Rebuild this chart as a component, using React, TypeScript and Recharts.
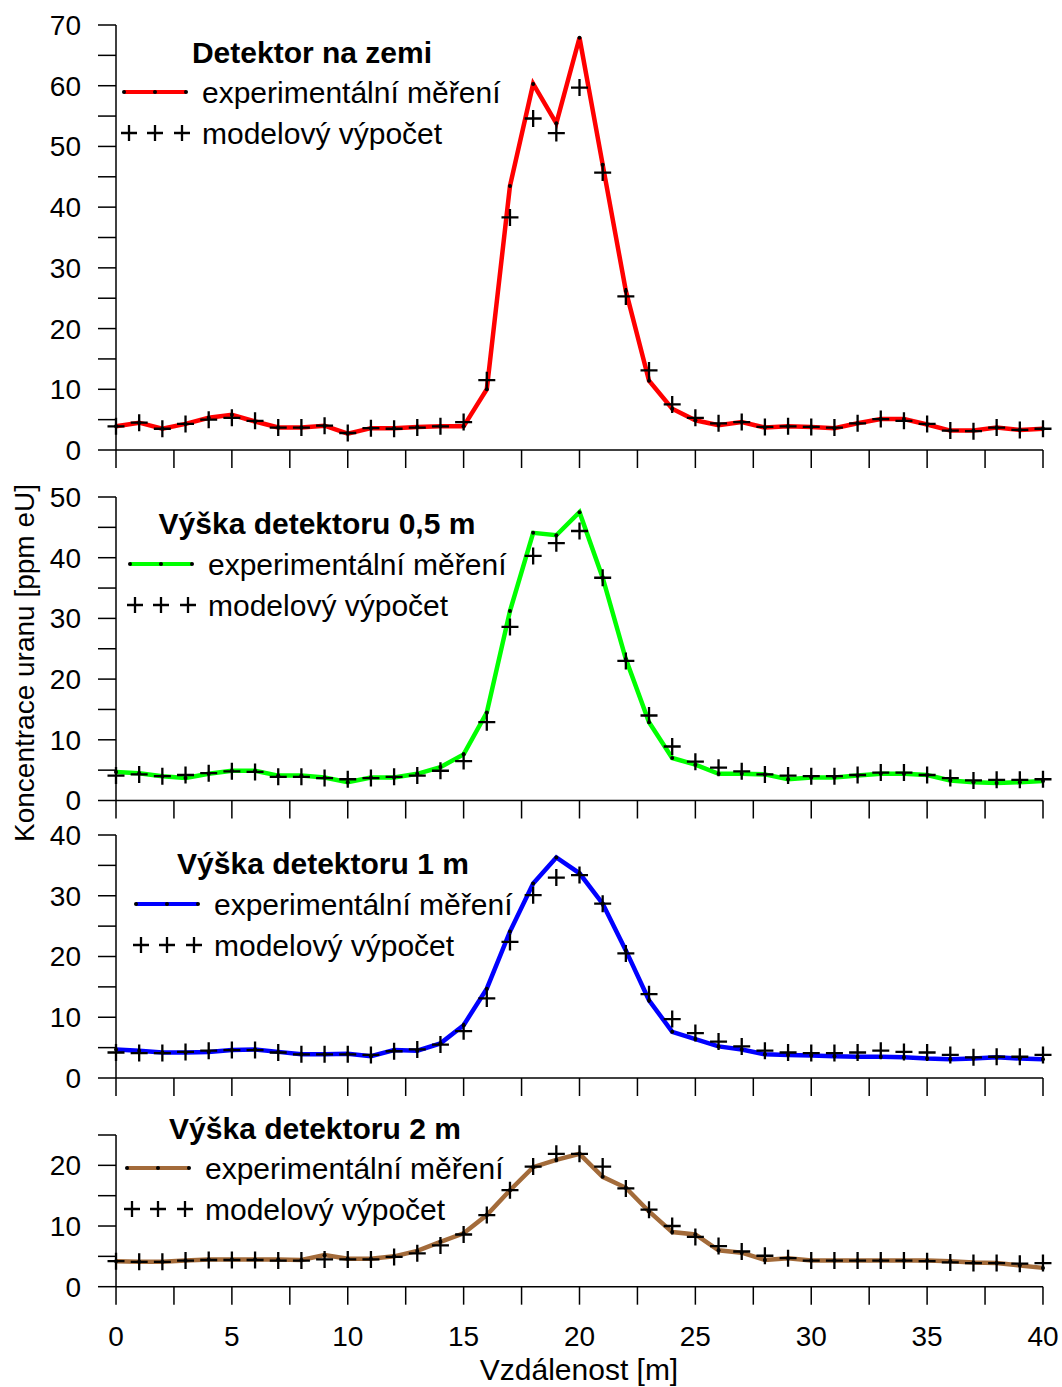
import React from 'react';
import { LineChart, Line, XAxis, YAxis } from 'recharts';

const distance = [
  0, 1, 2, 3, 4, 5, 6, 7, 8, 9, 10, 11, 12, 13, 14, 15, 16, 17, 18, 19, 20,
  21, 22, 23, 24, 25, 26, 27, 28, 29, 30, 31, 32, 33, 34, 35, 36, 37, 38, 39, 40,
];

const groundMeasured = [
  3.9, 4.5, 3.5, 4.3, 5.3, 5.8, 4.7, 3.7, 3.7, 4.0, 2.7, 3.6, 3.6, 3.8, 3.9, 3.9,
  10.0, 43.5, 60.3, 53.8, 67.9, 47.0, 26.2, 11.4, 6.8, 4.9, 4.1, 4.6, 3.7, 3.9,
  3.8, 3.6, 4.4, 5.1, 5.1, 4.2, 3.2, 3.2, 3.7, 3.3, 3.5,
];
const groundModel = [
  3.9, 4.5, 3.5, 4.3, 5.0, 5.3, 4.8, 3.7, 3.7, 4.0, 2.8, 3.6, 3.5, 3.7, 3.9, 4.6,
  11.5, 38.3, 54.6, 52.2, 59.7, 45.7, 25.3, 13.1, 7.5, 5.3, 4.4, 4.6, 3.8, 3.9,
  3.8, 3.7, 4.4, 5.1, 4.8, 4.3, 3.2, 3.1, 3.7, 3.3, 3.5,
];

const halfMeasured = [
  4.7, 4.5, 4.0, 3.7, 4.4, 4.9, 4.9, 4.1, 4.1, 3.8, 3.0, 3.8, 3.8, 4.4, 5.5, 7.6,
  14.5, 31.2, 44.1, 43.7, 47.5, 36.7, 23.3, 12.9, 7.0, 5.9, 4.4, 4.4, 4.3, 3.5,
  3.8, 3.8, 4.1, 4.4, 4.4, 4.2, 3.3, 3.0, 2.9, 3.0, 3.2,
];
const halfModel = [
  4.1, 4.3, 4.0, 4.2, 4.5, 4.8, 4.7, 3.9, 3.9, 3.7, 3.5, 3.7, 3.9, 4.1, 4.9, 6.5,
  12.9, 28.6, 40.3, 42.4, 44.4, 36.7, 23.0, 14.0, 8.9, 6.4, 5.4, 4.8, 4.3, 4.1,
  4.0, 4.0, 4.2, 4.6, 4.6, 4.2, 3.7, 3.3, 3.4, 3.4, 3.5,
];

const oneMeasured = [
  4.7, 4.5, 4.2, 4.2, 4.3, 4.6, 4.7, 4.3, 3.9, 3.9, 4.0, 3.6, 4.6, 4.5, 5.7, 8.7,
  14.7, 24.1, 32.0, 36.3, 33.7, 28.7, 21.0, 12.8, 7.6, 6.4, 5.2, 4.7, 3.9, 3.8,
  3.7, 3.6, 3.5, 3.5, 3.4, 3.2, 3.1, 3.2, 3.4, 3.2, 3.1,
];
const oneModel = [
  4.2, 4.1, 4.1, 4.3, 4.5, 4.6, 4.6, 4.2, 3.9, 3.9, 3.9, 3.8, 4.4, 4.7, 5.5, 7.7,
  13.1, 22.4, 30.1, 33.0, 33.4, 28.7, 20.5, 13.8, 9.7, 7.4, 6.0, 5.2, 4.5, 4.2,
  4.1, 4.1, 4.2, 4.5, 4.3, 4.2, 3.8, 3.4, 3.5, 3.5, 3.8,
];

const twoMeasured = [
  4.2, 4.1, 4.1, 4.3, 4.5, 4.5, 4.5, 4.5, 4.4, 5.2, 4.6, 4.6, 5.0, 5.9, 7.4, 8.8,
  11.8, 15.9, 19.7, 20.9, 21.9, 18.1, 16.3, 12.4, 9.0, 8.6, 6.0, 5.6, 4.4, 4.7,
  4.3, 4.3, 4.3, 4.3, 4.3, 4.3, 4.2, 4.0, 3.9, 3.5, 3.1,
];
const twoModel = [
  4.2, 4.1, 4.1, 4.3, 4.4, 4.4, 4.4, 4.3, 4.3, 4.5, 4.5, 4.5, 4.9, 5.5, 6.8, 8.6,
  11.8, 15.9, 19.8, 21.9, 21.9, 19.8, 16.2, 12.7, 10.0, 8.2, 6.7, 5.8, 5.1, 4.7,
  4.3, 4.3, 4.3, 4.3, 4.3, 4.2, 4.0, 3.9, 3.9, 3.8, 3.9,
];

const xTicks = [0, 2.5, 5, 7.5, 10, 12.5, 15, 17.5, 20, 22.5, 25, 27.5, 30, 32.5, 35, 37.5, 40];

const titles = [
  'Detektor na zemi',
  'Výška detektoru 0,5 m',
  'Výška detektoru 1 m',
  'Výška detektoru 2 m',
];
const measuredLabel = 'experimentální měření';
const modelLabel = 'modelový výpočet';
const yLabel = 'Koncentrace uranu [ppm eU]';
const xLabel = 'Vzdálenost [m]';

const FONT = '"Liberation Sans", Arial, sans-serif';
const FS_TICK = 28;
const FS_LEG = 30;

// plot area: top = chart top + 20, bottom = chart top + height - xh
const panels = [
  { title: titles[0], measured: groundMeasured, model: groundModel, color: '#ff0000', yMax: 70, top: 5, height: 470, xh: 25, titleX: 312, titleY: 52, legX: 124, legY: 92 },
  { title: titles[1], measured: halfMeasured, model: halfModel, color: '#00ff00', yMax: 50, top: 476.5, height: 348.5, xh: 25, titleX: 317, titleY: 523, legX: 130, legY: 564 },
  { title: titles[2], measured: oneMeasured, model: oneModel, color: '#0000ff', yMax: 40, top: 815, height: 288, xh: 25, titleX: 323, titleY: 863, legX: 136, legY: 904 },
  { title: titles[3], measured: twoMeasured, model: twoModel, color: '#a36b3a', yMax: 25, top: 1115.3, height: 241.7, xh: 70, titleX: 315, titleY: 1128, legX: 127, legY: 1168, bottom: true },
];

const SmallDot = (props: any) => {
  const { cx, cy, index } = props;
  if (cx == null || cy == null) return <g key={`d-${index}`} />;
  return <circle key={`d-${index}`} cx={cx} cy={cy} r={2} fill="#000" />;
};

const PlusDot = (props: any) => {
  const { cx, cy, index } = props;
  if (cx == null || cy == null) return <g key={`p-${index}`} />;
  const s = 8.5;
  return (
    <path
      key={`p-${index}`}
      d={`M ${cx - s} ${cy} H ${cx + s} M ${cx} ${cy - s} V ${cy + s}`}
      stroke="#000"
      strokeWidth={2.3}
      fill="none"
    />
  );
};

const PanelLegend = ({ p }: { p: any }) => {
  const plus = (x: number, y: number) => (
    <path d={`M ${x - 8} ${y} H ${x + 8} M ${x} ${y - 8} V ${y + 8}`} stroke="#000" strokeWidth={2.3} />
  );
  const rowGap = 41;
  return (
    <svg
      width={500}
      height={200}
      style={{ position: 'absolute', left: 0, top: p.legY - 100, overflow: 'visible' }}
    >
      <text x={p.titleX} y={p.titleY - p.legY + 100} textAnchor="middle" dominantBaseline="central"
        fontFamily={FONT} fontSize={FS_LEG} fontWeight="bold" fill="#000">
        {p.title}
      </text>
      <line x1={p.legX} y1={100} x2={p.legX + 62} y2={100} stroke={p.color} strokeWidth={4} />
      <circle cx={p.legX} cy={100} r={2} fill="#000" />
      <circle cx={p.legX + 31} cy={100} r={2} fill="#000" />
      <circle cx={p.legX + 62} cy={100} r={2} fill="#000" />
      <text x={p.legX + 78} y={100} dominantBaseline="central" fontFamily={FONT} fontSize={FS_LEG} fill="#000">
        {measuredLabel}
      </text>
      {plus(p.legX + 5, 100 + rowGap)}
      {plus(p.legX + 31, 100 + rowGap)}
      {plus(p.legX + 58, 100 + rowGap)}
      <text x={p.legX + 78} y={100 + rowGap} dominantBaseline="central" fontFamily={FONT} fontSize={FS_LEG} fill="#000">
        {modelLabel}
      </text>
    </svg>
  );
};

export default function App() {
  return (
    <div style={{ position: 'absolute', left: 0, top: 0, width: 1062, height: 1387, background: '#fff', fontFamily: FONT }}>
      {panels.map((p, pi) => {
        const data = distance.map((d, i) => ({ d, exp: p.measured[i], mod: p.model[i] }));
        const yTicks: number[] = [];
        for (let v = 0; v <= p.yMax; v += 5) yTicks.push(v);
        return (
          <div key={pi} style={{ position: 'absolute', left: 0, top: p.top }}>
            <LineChart
              width={1062}
              height={p.height}
              data={data}
              margin={{ top: 20, right: 19, left: 0, bottom: 0 }}
            >
              <XAxis
                dataKey="d"
                type="number"
                domain={[0, 40]}
                ticks={xTicks}
                interval={0}
                height={p.xh}
                tickSize={18}
                tickMargin={21}
                axisLine={{ stroke: '#000', strokeWidth: 1.5 }}
                tickLine={{ stroke: '#000', strokeWidth: 1.5 }}
                tick={{ fontSize: FS_TICK, fill: '#000', fontFamily: FONT }}
                tickFormatter={(v) => (p.bottom && v % 5 === 0 ? String(v) : '')}
              />
              <YAxis
                type="number"
                domain={[0, p.yMax]}
                ticks={yTicks}
                interval={0}
                width={116}
                tickSize={18}
                tickMargin={17}
                axisLine={{ stroke: '#000', strokeWidth: 1.5 }}
                tickLine={{ stroke: '#000', strokeWidth: 1.5 }}
                tick={{ fontSize: FS_TICK, fill: '#000', fontFamily: FONT }}
                tickFormatter={(v) => (v % 10 === 0 ? String(v) : '')}
              />
              <Line
                type="linear"
                dataKey="exp"
                stroke={p.color}
                strokeWidth={4.5}
                dot={SmallDot}
                activeDot={false}
                isAnimationActive={false}
              />
              <Line
                type="linear"
                dataKey="mod"
                stroke="none"
                strokeWidth={0}
                dot={PlusDot}
                activeDot={false}
                isAnimationActive={false}
              />
            </LineChart>
            <div style={{ position: 'absolute', left: 0, top: -p.top }}>
              <PanelLegend p={p} />
            </div>
          </div>
        );
      })}
      <div
        style={{
          position: 'absolute',
          left: 25,
          top: 663,
          transform: 'translate(-50%, -50%) rotate(-90deg)',
          whiteSpace: 'nowrap',
          fontSize: 28,
          color: '#000',
        }}
      >
        {yLabel}
      </div>
      <div
        style={{
          position: 'absolute',
          left: 579,
          top: 1370,
          transform: 'translate(-50%, -50%)',
          whiteSpace: 'nowrap',
          fontSize: FS_LEG,
          color: '#000',
        }}
      >
        {xLabel}
      </div>
    </div>
  );
}
